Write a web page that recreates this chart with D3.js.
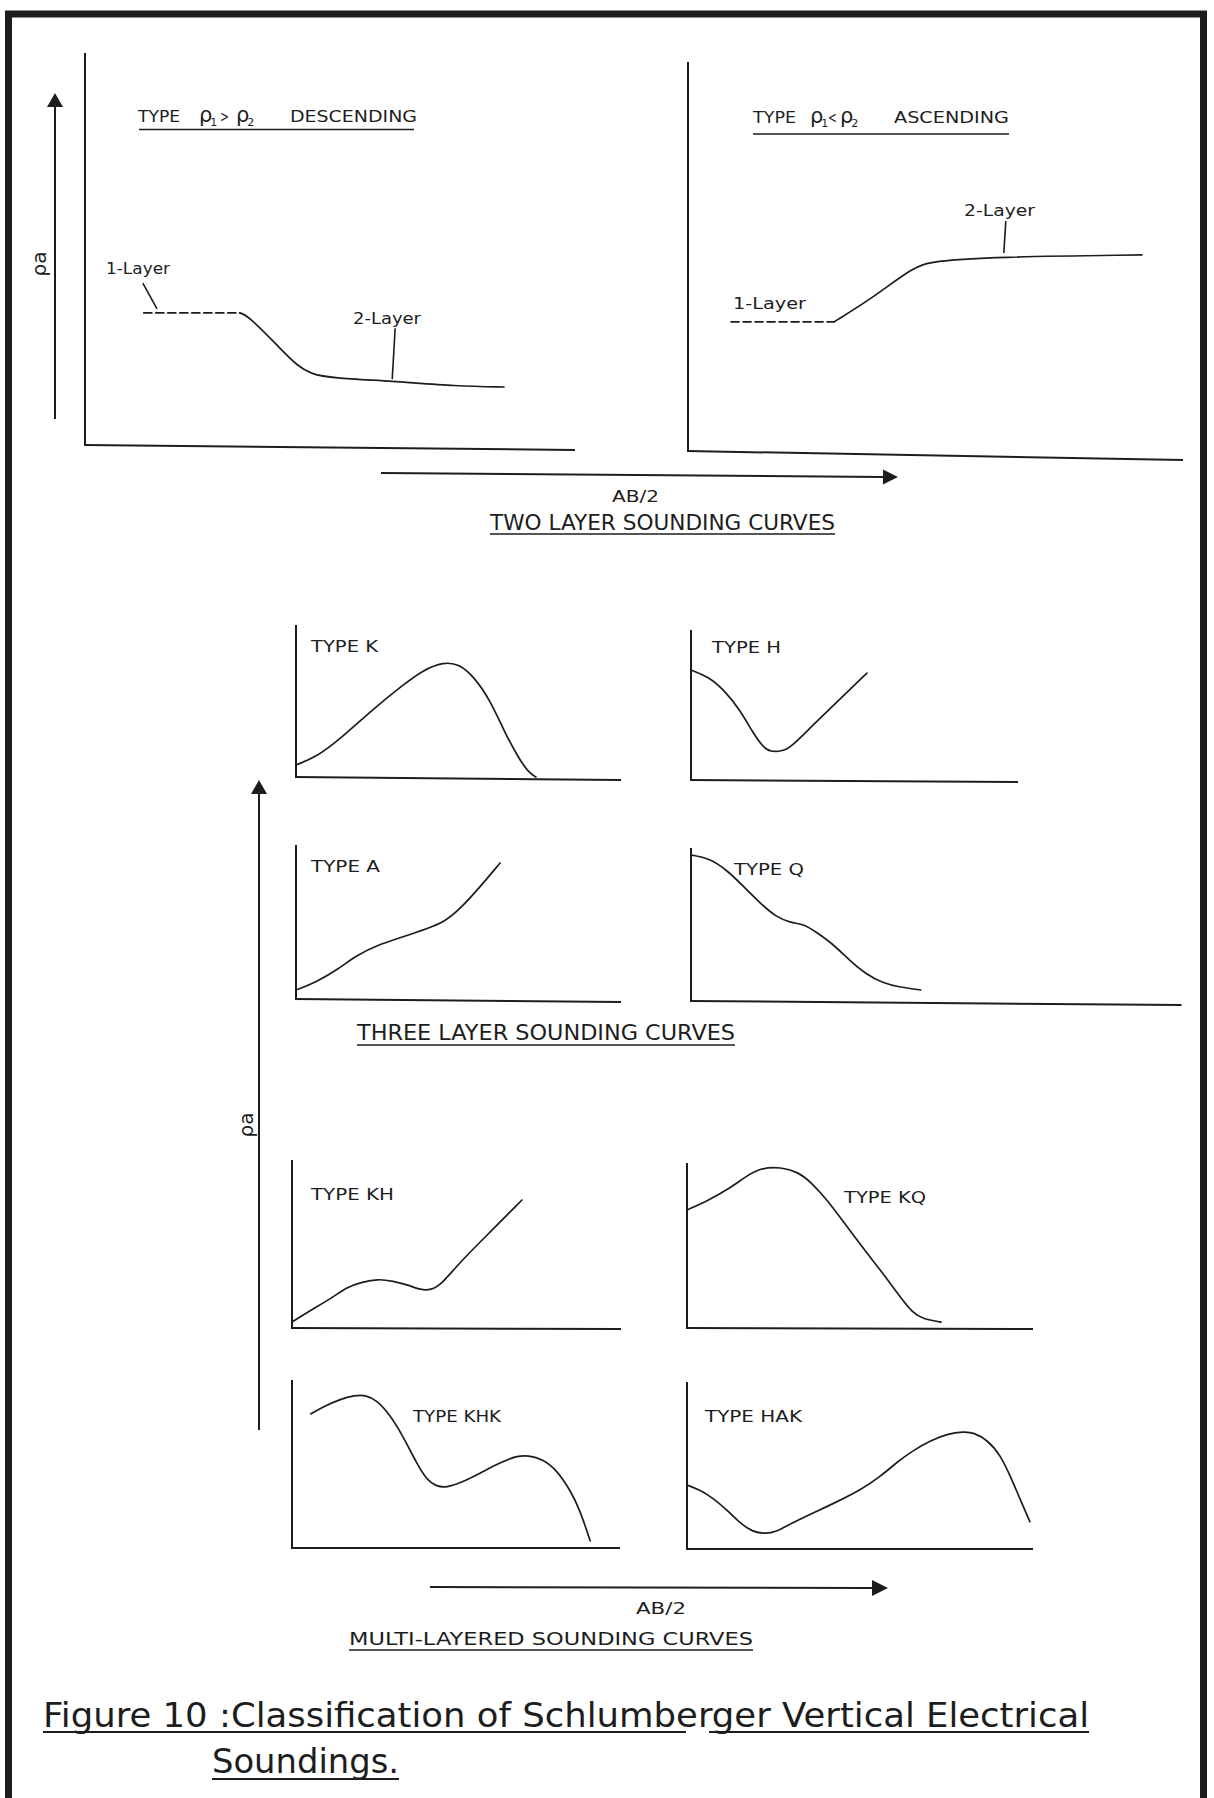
<!DOCTYPE html>
<html>
<head>
<meta charset="utf-8">
<script src="https://cdn.jsdelivr.net/npm/d3@7"></script>
<style>
  html, body { margin: 0; padding: 0; background: #fff; }
  svg { display: block; }
  text { font-family: "DejaVu Sans", "Liberation Sans", sans-serif; fill: #1d1d1d; }
</style>
</head>
<body>
<svg id="fig" width="1214" height="1798"></svg>
<script>
// Sounding curves: apparent resistivity (rho_a) against electrode spacing AB/2,
// both in relative units (0-100 along each drawn axis).

// Two-layer curves
const descLayer1 = [[12, 33.7], [31.6, 33.7]];
const descLayer2 = [[31.6, 33.7], [33.3, 33.0], [39.8, 24.7], [43.3, 20.2], [46.2, 18.1], [50.3, 17.1], [62.4, 16.3], [76.1, 15.0], [85.5, 14.8]];
const ascLayer1 = [[8.7, 33.2], [29.5, 33.2]];
const ascLayer2 = [[29.5, 33.2], [37.6, 39.6], [45.5, 47.3], [49.5, 48.8], [61.4, 49.9], [91.7, 50.4]];

// Three-layer curves
const curveK = [[0, 7.9], [6.2, 13.2], [13.2, 24.3], [23.4, 44.1], [32.9, 60.5], [39.1, 70.4], [45.5, 75.7], [50.2, 74.3], [54.8, 65.8], [59.7, 50.7], [64.3, 28.9], [68.3, 13.2], [71.4, 3.3], [73.8, 0]];
const curveH = [[0, 73.3], [5.5, 68.7], [10.1, 60], [15, 46.7], [19, 31.3], [22, 22], [24.2, 18.7], [28.1, 19.3], [30.6, 22], [36.7, 35.3], [44.6, 52], [53.8, 71.3]];
const curveA = [[0, 5.8], [6.2, 11], [12.6, 18.8], [18.8, 28.6], [25.2, 35.1], [32.9, 40.3], [40.9, 46.1], [45.5, 50], [50.2, 57.8], [56.6, 72.7], [62.8, 88.3]];
const curveQ = [[0, 95.4], [5.5, 93.5], [11, 85.6], [16.5, 73.9], [21.1, 64.1], [26, 54.9], [30.6, 51], [34.6, 50.3], [38.2, 45.1], [43.1, 37.9], [48.3, 26.8], [53.8, 17], [58.7, 11.8], [63.3, 9.2], [70.3, 7.2]];

// Multi-layered curves
const curveKH = [[0, 3.6], [5.8, 10.7], [12.2, 17.9], [16.7, 24.4], [21.3, 27.4], [26.1, 29.2], [30.7, 28], [35.3, 25.6], [39.2, 22.6], [42.2, 22.6], [45.3, 25.6], [50.8, 38.7], [60.2, 57.1], [69.9, 76.2]];
const curveKQ = [[0, 71.5], [6.4, 77.6], [12.4, 84.8], [16.8, 91.5], [21.1, 97], [27.2, 97.6], [32.1, 94.5], [35.8, 88.5], [40.5, 77.6], [44.8, 65.5], [50.6, 49.1], [56.6, 33.3], [61.6, 18.8], [65.3, 9.1], [68.2, 5.5], [73.4, 3.6]];
const curveKHK = [[5.7, 79.8], [9.5, 84.1], [14.6, 88.5], [19.2, 90.9], [22.3, 91.1], [25.8, 88.1], [29.9, 79.2], [33.9, 66.3], [38, 50.4], [41.1, 40.5], [44.1, 36.5], [47.2, 36.1], [51.2, 38.5], [57.3, 44.4], [63.4, 50.8], [68.5, 54.8], [72, 55.2], [76.6, 52.8], [80.7, 46.4], [84.8, 34.5], [87.8, 22.6], [90.9, 4.3]];
const curveHAK = [[0, 38.3], [3.8, 35.3], [7.6, 30.3], [11.5, 23.4], [15.4, 15.4], [18.8, 10.4], [22.6, 9], [26, 10.4], [29.8, 15], [36.6, 21.7], [43.4, 28.3], [50.1, 35.3], [55.9, 43.3], [60.8, 52.3], [65.6, 59.3], [70.4, 64.9], [75.2, 68.9], [80, 70.3], [82.9, 69.7], [86.8, 65.3], [90.6, 56.3], [93.5, 43.3], [96.4, 29.3], [99.1, 16.3]];

// Panel names
const panelTypes = ["TYPE K", "TYPE H", "TYPE A", "TYPE Q", "TYPE KH", "TYPE KQ", "TYPE KHK", "TYPE HAK"];
const layerNames = ["1-Layer", "2-Layer"];
const sectionTitles = ["TWO LAYER SOUNDING CURVES", "THREE LAYER SOUNDING CURVES", "MULTI-LAYERED SOUNDING CURVES"];
const captionLines = ["Figure 10 :Classification of Schlumberger Vertical Electrical", "Soundings."];

// ---------------------------------------------------------------------------
const ink = "#1d1d1d";
const svg = d3.select("#fig");

// Page frame (open at the bottom)
svg.append("path")
  .attr("d", "M8.5,1798 V14 H1203.5 V1798")
  .attr("fill", "none").attr("stroke", ink).attr("stroke-width", 7);

// Panel geometry in page pixels
const layout = {
  desc: { left: 85,  right: 575,  bottom: 445,  top: 53,   xEnd: 100, tilt: 5 },
  asc:  { left: 688, right: 1183, bottom: 451,  top: 62,   xEnd: 100, tilt: 9 },
  K:    { left: 296, right: 621,  bottom: 777,  top: 625,  xEnd: 100, tilt: 3 },
  H:    { left: 691, right: 1018, bottom: 780,  top: 630,  xEnd: 100, tilt: 2 },
  A:    { left: 296, right: 621,  bottom: 999,  top: 845,  xEnd: 100, tilt: 3 },
  Q:    { left: 691, right: 1018, bottom: 1001, top: 848,  xEnd: 150, tilt: 4 },
  KH:   { left: 292, right: 621,  bottom: 1328, top: 1160, xEnd: 100, tilt: 1 },
  KQ:   { left: 687, right: 1033, bottom: 1328, top: 1163, xEnd: 100, tilt: 1 },
  KHK:  { left: 292, right: 620,  bottom: 1548, top: 1380, xEnd: 100, tilt: 0 },
  HAK:  { left: 687, right: 1033, bottom: 1549, top: 1382, xEnd: 100, tilt: 0 }
};

const scales = {};
Object.entries(layout).forEach(([key, p]) => {
  const x = d3.scaleLinear().domain([0, 100]).range([p.left, p.right]);
  const y = d3.scaleLinear().domain([0, 100]).range([p.bottom, p.top]);
  scales[key] = { x, y };
  const g = svg.append("g").attr("class", "axes-" + key)
    .attr("stroke", ink).attr("stroke-width", 2).attr("fill", "none");
  // rho_a axis
  g.append("line").attr("x1", x(0)).attr("y1", y(0)).attr("x2", x(0)).attr("y2", y(100));
  // AB/2 axis
  g.append("line").attr("x1", x(0) - 1).attr("y1", y(0))
    .attr("x2", x(p.xEnd)).attr("y2", y(0) + p.tilt);
});

const series = [
  { panel: "desc", data: descLayer1, dashed: true },
  { panel: "desc", data: descLayer2 },
  { panel: "asc",  data: ascLayer1, dashed: true },
  { panel: "asc",  data: ascLayer2 },
  { panel: "K",   data: curveK },
  { panel: "H",   data: curveH },
  { panel: "A",   data: curveA },
  { panel: "Q",   data: curveQ },
  { panel: "KH",  data: curveKH },
  { panel: "KQ",  data: curveKQ },
  { panel: "KHK", data: curveKHK },
  { panel: "HAK", data: curveHAK }
];

series.forEach(s => {
  const { x, y } = scales[s.panel];
  const line = d3.line()
    .x(d => x(d[0])).y(d => y(d[1]))
    .curve(s.dashed ? d3.curveLinear : d3.curveBasis);
  svg.append("path")
    .datum(s.data)
    .attr("d", line)
    .attr("fill", "none")
    .attr("stroke", ink)
    .attr("stroke-width", 1.7)
    .attr("stroke-linejoin", "round")
    .attr("stroke-linecap", "round")
    .attr("stroke-dasharray", s.dashed ? "8,4" : null);
});

// Leader lines from layer names to the curves (panel units)
const leaders = [
  { panel: "desc", from: [11.8, 41.3], to: [14.7, 34.7] },
  { panel: "desc", from: [63.3, 29.8], to: [62.7, 16.8] },
  { panel: "asc",  from: [64.2, 59.1], to: [63.8, 50.9] }
];
leaders.forEach(l => {
  const { x, y } = scales[l.panel];
  svg.append("line")
    .attr("x1", x(l.from[0])).attr("y1", y(l.from[1]))
    .attr("x2", x(l.to[0])).attr("y2", y(l.to[1]))
    .attr("stroke", ink).attr("stroke-width", 1.6);
});

// Text helper: fitted width keeps the hand-lettered proportions
function label(txt, x, y, size, width) {
  const t = svg.append("text")
    .attr("x", x).attr("y", y)
    .attr("font-size", size)
    .text(txt);
  if (width) t.attr("textLength", width).attr("lengthAdjust", "spacingAndGlyphs");
  return t;
}
function underline(x1, x2, y, w = 1.6) {
  svg.append("line").attr("x1", x1).attr("x2", x2).attr("y1", y).attr("y2", y)
    .attr("stroke", ink).attr("stroke-width", w);
}
function rho(x, y, sub) {
  const t = svg.append("text").attr("x", x).attr("y", y).attr("font-size", 21).text("ρ");
  t.append("tspan").attr("font-size", 11).attr("dy", 4).attr("dx", -2).text(sub);
}
function verticalLabel(txt, x, y, size) {
  svg.append("text")
    .attr("transform", `translate(${x},${y}) rotate(-90)`)
    .attr("text-anchor", "middle")
    .attr("font-size", size)
    .text(txt);
}
function arrow(x1, y1, x2, y2, len = 14, half = 8) {
  const a = Math.atan2(y2 - y1, x2 - x1);
  const bx = x2 - len * Math.cos(a), by = y2 - len * Math.sin(a);
  svg.append("line").attr("x1", x1).attr("y1", y1).attr("x2", bx).attr("y2", by)
    .attr("stroke", ink).attr("stroke-width", 2);
  const px = -Math.sin(a) * half, py = Math.cos(a) * half;
  svg.append("path")
    .attr("d", `M${x2},${y2}L${bx + px},${by + py}L${bx - px},${by - py}Z`)
    .attr("fill", ink);
}

// --- Two-layer section ---
label("TYPE", 138, 122, 16.5, 42);
rho(199, 122, "1");
label(">", 220, 122, 16.5, 9);
rho(236, 122, "2");
label("DESCENDING", 290, 122, 16.5, 127);
underline(139, 414, 129.5);

label("TYPE", 753, 123, 16.5, 43);
rho(810, 123, "1");
label("<", 828, 123, 16.5, 9);
rho(840, 123, "2");
label("ASCENDING", 894, 123, 16.5, 115);
underline(753, 1009, 134);

label(layerNames[0], 106, 274, 16, 64);
label(layerNames[1], 353, 324, 16, 68);
label(layerNames[0], 733, 309, 16, 73);
label(layerNames[1], 964, 216, 16, 71);

// rho_a axis arrow and label, upper left
arrow(55, 419, 55, 93);
verticalLabel("ρa", 46, 264, 20);

// AB/2 arrow, two-layer section
arrow(381, 473, 898, 477, 15, 7.5);
label("AB/2", 612, 502, 16.5, 47);
label(sectionTitles[0], 490, 530, 20.5, 345);
underline(490, 835, 534);

// --- Three-layer section ---
const typePos = [
  [311, 652, 67], [712, 653, 69], [311, 872, 69], [734, 875, 70],
  [311, 1200, 83], [844, 1203, 82], [413, 1422, 88], [705, 1422, 97]
];
panelTypes.forEach((t, i) => label(t, typePos[i][0], typePos[i][1], 16.5, typePos[i][2]));

label(sectionTitles[1], 357, 1040, 20.5, 378);
underline(357, 735, 1045);

// Shared rho_a arrow for the three- and multi-layer panels
arrow(259, 1430, 259, 780);
verticalLabel("ρa", 253, 1125, 20);

// --- Multi-layered section ---
arrow(430, 1587, 888, 1588, 16, 8);
label("AB/2", 636, 1614, 16, 50);
label(sectionTitles[2], 349, 1645, 18, 404);
underline(349, 753, 1650);

// Caption
label(captionLines[0], 43, 1727, 34, 1046);
underline(43, 686, 1732, 1.8);
underline(709, 1089, 1732, 1.8);
label(captionLines[1], 212, 1773, 34, 187);
underline(212, 399, 1779, 1.8);
</script>
</body>
</html>
